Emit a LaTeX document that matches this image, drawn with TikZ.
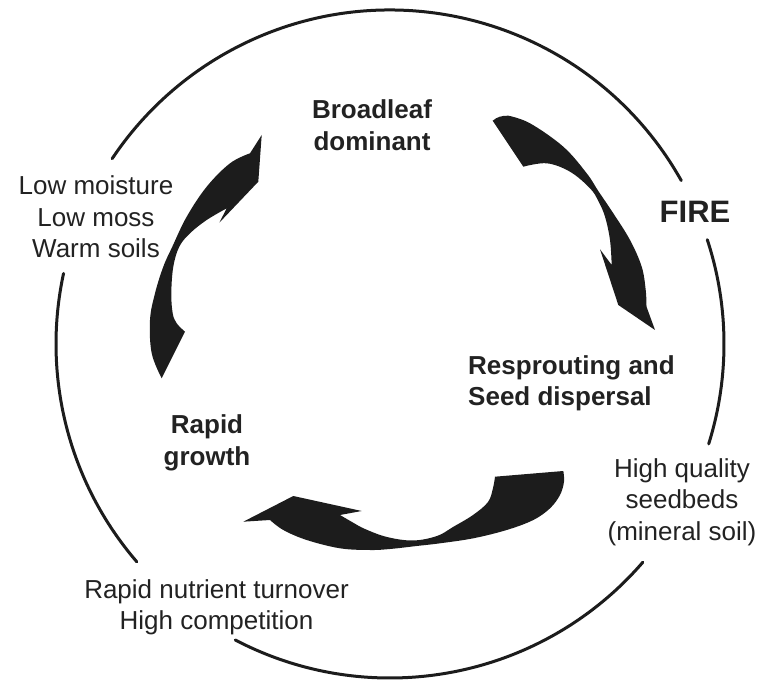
\documentclass[tikz,border=0pt]{standalone}
\usepackage{fontspec}
\setmainfont{Liberation Sans}
\definecolor{ink}{HTML}{1C1C1C}
\definecolor{txt}{HTML}{222222}
\tikzset{
  ring/.style={draw=ink, line width=3pt, line cap=round},
  swoosh/.style={fill=ink, draw=none},
  % multi-line labels are anchored at the baseline of their last line
  lbl/.style={text=txt, inner sep=0pt, align=center, anchor=base,
    font=\fontsize{26}{31.5}\selectfont},
  blbl/.style={lbl, font=\fontsize{26}{31.5}\selectfont\bfseries},
}
\begin{document}
\begin{tikzpicture}[x=1pt, y=-1pt]
  \useasboundingbox (0,0) rectangle (763,684);
  \coordinate (c) at (390,344);

  % outer cycle, broken where the side notes sit
  \draw[ring] (c) ++(-29.3:334) arc[start angle=-29.3, end angle=-146.3, radius=334];
  \draw[ring] (c) ++(-167.8:334) arc[start angle=-167.8, end angle=-220.7, radius=334];
  \draw[ring] (c) ++(-242.4:334) arc[start angle=-242.4, end angle=-319.2, radius=334];
  \draw[ring] (c) ++(17.4:334) arc[start angle=17.4, end angle=-18.2, radius=334];

  % swoosh: broadleaf -> resprouting
  \fill[swoosh] (492.7,120.7)
    .. controls (497,117) and (502,115.5) .. (508.3,115.7)
    -- plot[smooth, tension=0.6] coordinates {(508.3,115.7) (530,123.3) (563.3,146.7) (586.7,173.3) (598.3,191) (613.3,213.3) (630,240) (641.7,266.7) (645.7,290) (646.5,306.7)}
    -- (655,330) -- (618.3,305) -- (600,249.3) -- (611.7,265)
    -- plot[smooth, tension=0.6] coordinates {(611.7,265) (610,240) (605,216.7) (598.3,201) (590,188.3) (570,171.7) (546.7,163.3) (523.3,166.7)}
    -- cycle;

  % swoosh: resprouting -> rapid growth
  \fill[swoosh] (243.3,521.7) -- (293.3,496) -- (361.7,511) -- (340,515)
    -- plot[smooth, tension=0.6] coordinates {(340,515) (352,522) (365,529) (387,537) (413,540.5) (437,536) (453,527) (473,515) (488,502) (493,488) (495,476.7)}
    -- (563.3,471)
    -- plot[smooth, tension=0.6] coordinates {(563.3,471) (564,481.7) (560,495) (550,508.3) (533.3,520) (506.7,530) (473.3,538.3) (440,543.3) (416.7,546) (390,549) (370,550) (340,548.3) (306.7,540) (283.3,530) (270,520)}
    -- cycle;

  % swoosh: rapid growth -> broadleaf
  \fill[swoosh] (261.7,135) -- (258.3,181.7) -- (219.3,222.7) -- (226.7,208.3)
    -- plot[smooth, tension=0.6] coordinates {(226.7,208.3) (206.7,220) (190,233.3) (179.3,246.7) (173.3,266.7) (171.3,293.3) (172.7,313.3) (176.7,323.3) (185,331.7)}
    -- (161.7,378.3)
    -- plot[smooth, tension=0.6] coordinates {(161.7,378.3) (151.7,353.3) (150,320) (155,293.3) (163.3,266.7) (172.3,246.7) (186.7,216.7) (206.7,186.7) (230,163.3) (250,153.3)}
    -- cycle;

  % stages of the cycle
  \node[blbl] (broad) at (372,150.5) {Broadleaf\\dominant};
  \node[blbl, align=left, anchor=base west] (resp) at (468,406) {Resprouting and\\Seed dispersal};
  \node[blbl] (rapid) at (207,465) {Rapid\\growth};
  \node[lbl, font=\fontsize{31}{36}\selectfont\bfseries] (fire) at (695,223) {FIRE};

  % conditions between the stages
  \node[lbl] (dry) at (96,258) {Low moisture\\Low moss\\Warm soils};
  \node[lbl] (seedbed) at (682,540) {High quality\\seedbeds\\(mineral soil)};
  \node[lbl] (nutr) at (216.5,629.5) {Rapid nutrient turnover\\High competition};
\end{tikzpicture}
\end{document}
